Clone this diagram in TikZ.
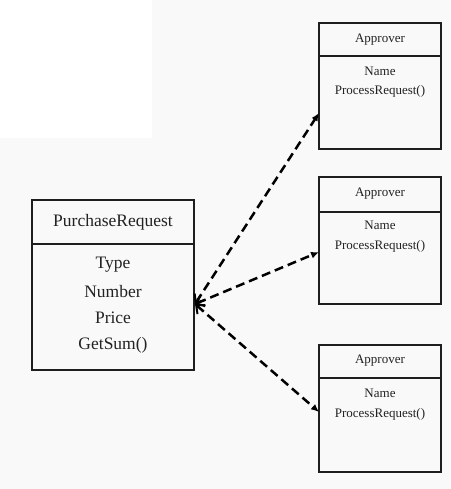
\documentclass[tikz,border=0pt]{standalone}
\usepackage{fontspec}
\setmainfont{Liberation Serif}
\usetikzlibrary{arrows.meta}
\definecolor{bg}{HTML}{F9F9F9}
\definecolor{ink}{HTML}{1E1E1E}
\definecolor{txt}{HTML}{222222}
\begin{document}
\begin{tikzpicture}[x=1pt,y=-1pt,
  umlbox/.style={draw=ink, line width=2pt, rectangle, inner sep=0pt},
  bigtxt/.style={text=txt, font=\fontsize{17.5}{20}\selectfont, inner sep=0pt, anchor=center},
  smalltxt/.style={text=txt, font=\fontsize{13}{15}\selectfont, inner sep=0pt, anchor=center},
  link/.style={draw=black, line width=2.5pt, dash pattern=on 9pt off 5pt,
    {Straight Barb[length=7pt,width=12pt,line width=2pt]}-{Latex[length=8pt,width=7pt]}}
]
\fill[bg] (0,0) rectangle (450,489);
\fill[white] (0,0) rectangle (152,138);
\useasboundingbox (0,0) rectangle (450,489);

% PurchaseRequest
\node[umlbox, minimum width=162pt, minimum height=170pt] (pr) at (113,285) {};
\draw[draw=ink, line width=2pt] (pr.west |- 0,244) -- (pr.east |- 0,244);
\node[bigtxt] (prt) at (113,222) {PurchaseRequest};
\node[bigtxt] (pr1) at (113,265) {Type};
\node[bigtxt] (pr2) at (113,292) {Number};
\node[bigtxt] (pr3) at (113,318) {Price};
\node[bigtxt] (pr4) at (113,345) {GetSum()};
\coordinate (prp) at (195,304);

% Approver 1
\node[umlbox, minimum width=122pt, minimum height=126pt] (a1) at (380,86) {};
\draw[draw=ink, line width=2pt] (a1.west |- 0,56) -- (a1.east |- 0,56);
\node[smalltxt] (a1t) at (380,39.5) {Approver};
\node[smalltxt] (a1n) at (380,71) {Name};
\node[smalltxt] (a1m) at (380,91) {ProcessRequest()};
\coordinate (a1p) at (319,113);

% Approver 2
\node[umlbox, minimum width=122pt, minimum height=127pt] (a2) at (380,240.5) {};
\draw[draw=ink, line width=2pt] (a2.west |- 0,212) -- (a2.east |- 0,212);
\node[smalltxt] (a2t) at (380,194) {Approver};
\node[smalltxt] (a2n) at (380,225) {Name};
\node[smalltxt] (a2m) at (380,246) {ProcessRequest()};
\coordinate (a2p) at (319,252);

% Approver 3
\node[umlbox, minimum width=122pt, minimum height=127pt] (a3) at (380,408.5) {};
\draw[draw=ink, line width=2pt] (a3.west |- 0,378) -- (a3.east |- 0,378);
\node[smalltxt] (a3t) at (380,361) {Approver};
\node[smalltxt] (a3n) at (380,393) {Name};
\node[smalltxt] (a3m) at (380,414) {ProcessRequest()};
\coordinate (a3p) at (319,412);

\draw[link] (prp) -- (a1p);
\draw[link] (prp) -- (a2p);
\draw[link] (prp) -- (a3p);
\end{tikzpicture}
\end{document}
